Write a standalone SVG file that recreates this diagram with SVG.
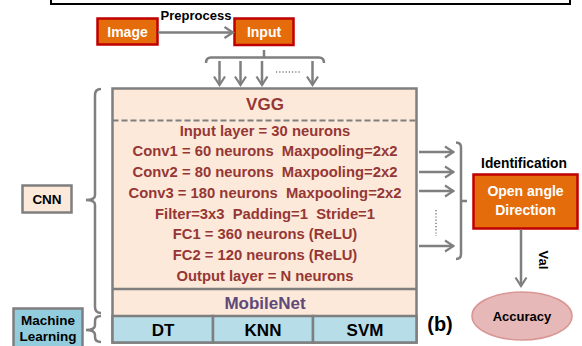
<svg xmlns="http://www.w3.org/2000/svg" width="582" height="346" viewBox="0 0 582 346">
<defs>
<marker id="ah" viewBox="0 0 12 14" refX="10.5" refY="7" markerWidth="12" markerHeight="14" markerUnits="userSpaceOnUse" orient="auto"><path d="M2,1.5 L10.5,7 L2,12.5" fill="none" stroke="#7f7f7f" stroke-width="2.2"/></marker>
</defs>
<style>
text{font-family:"Liberation Sans",Arial,sans-serif;font-weight:bold;text-anchor:middle}
.conn{stroke:#7f7f7f;stroke-width:2.5;fill:none}
.arr{marker-end:url(#ah)}
.dots{stroke:#7f7f7f;stroke-width:1.5;stroke-dasharray:1.2 2;fill:none}
.orange{fill:#e46c0a;stroke:#c00000;stroke-width:2.5}
.wt{fill:#ffffff;font-size:14px}
.red{fill:#953735;font-size:14.8px}
.blk{fill:#000000}
.peach{fill:#fde9d9;stroke:#7f7f7f;stroke-width:2.5}
.blue{fill:#b7dee8;stroke:#7f7f7f;stroke-width:2.5}
</style>
<rect x="51" y="-10" width="519" height="14" fill="none" stroke="#000" stroke-width="2"/>

<g id="image"><rect class="orange" x="97.5" y="18.5" width="60" height="26"/><text class="wt" x="127.5" y="36.5">Image</text></g>
<g id="input"><rect class="orange" x="234.5" y="18.5" width="59" height="26.5"/><text class="wt" x="264" y="36.5">Input</text></g>
<text class="blk" x="196" y="20" font-size="13">Preprocess</text>

<g id="cnn-label"><rect class="peach" x="22.5" y="185.5" width="49" height="27"/><text class="blk" x="47" y="204" font-size="13.5">CNN</text></g>
<g id="ml-label"><rect x="13.5" y="308.5" width="69" height="45" fill="#93cddd" stroke="#7f7f7f" stroke-width="2.5"/><text class="blk" x="48" y="324.5" font-size="13.5">Machine</text><text class="blk" x="48" y="341" font-size="13.5">Learning</text></g>

<g id="model">
<rect class="peach" x="112.5" y="88.5" width="304" height="254"/>
<line x1="112.5" y1="120.5" x2="416.5" y2="120.5" stroke="#7f7f7f" stroke-width="2" stroke-dasharray="6 3"/>
<line x1="112.5" y1="289" x2="416.5" y2="289" stroke="#7f7f7f" stroke-width="2.5"/>
<text x="265" y="110" font-size="17" fill="#953735">VGG</text>
<text class="red" x="265" y="135.5">Input layer = 30 neurons</text>
<text class="red" x="265" y="156.3" xml:space="preserve">Conv1 = 60 neurons  Maxpooling=2x2</text>
<text class="red" x="265" y="177" xml:space="preserve">Conv2 = 80 neurons  Maxpooling=2x2</text>
<text class="red" x="265" y="197.8" xml:space="preserve">Conv3 = 180 neurons  Maxpooling=2x2</text>
<text class="red" x="265" y="218.5" xml:space="preserve">Filter=3x3  Padding=1  Stride=1</text>
<text class="red" x="265" y="239.3">FC1 = 360 neurons (ReLU)</text>
<text class="red" x="265" y="260">FC2 = 120 neurons (ReLU)</text>
<text class="red" x="265" y="280.8">Output layer = N neurons</text>
<text x="265" y="308.5" font-size="17" fill="#5f497a">MobileNet</text>
</g>
<g id="ml-row">
<rect class="blue" x="112.5" y="316" width="100.5" height="26.5"/>
<rect class="blue" x="213" y="316" width="100" height="26.5"/>
<rect class="blue" x="313" y="316" width="103.5" height="26.5"/>
<text class="blk" x="163" y="336" font-size="17">DT</text>
<text class="blk" x="263" y="336" font-size="17">KNN</text>
<text class="blk" x="365" y="336" font-size="17">SVM</text>
</g>

<g id="identification"><text class="blk" x="524" y="167.5" font-size="13.8">Identification</text><rect class="orange" x="473.5" y="174.5" width="104" height="54"/><text class="wt" x="525.5" y="196">Open angle</text><text class="wt" x="525.5" y="214.5">Direction</text></g>
<g id="accuracy"><ellipse cx="522" cy="316" rx="50" ry="24" fill="#e6b9b8" stroke="#d99694" stroke-width="1.5"/><text class="blk" x="522" y="321" font-size="13">Accuracy</text></g>
<text class="blk" x="440" y="331" font-size="20">(b)</text>

<g id="connectors">
<line class="conn arr" x1="158" y1="32.5" x2="233" y2="32.5"/>
<path class="conn" d="M264,50 V57.5 M206,63 Q206,57.5 211,57.5 H319 Q324,57.5 324,63"/>
<line class="conn arr" x1="219.5" y1="61" x2="219.5" y2="85"/>
<line class="conn arr" x1="240.5" y1="61" x2="240.5" y2="85"/>
<line class="conn arr" x1="262" y1="61" x2="262" y2="85"/>
<line class="conn arr" x1="312.5" y1="61" x2="312.5" y2="85"/>
<line class="dots" x1="276" y1="72" x2="301" y2="72"/>
<path class="conn" d="M101,89 Q95,89 95,95 V195 Q95,200 86,200 Q95,200 95,205 V307 Q95,313 101,313"/>
<path class="conn" d="M101,316 Q95,316 95,321 V325 Q95,330 86,330 Q95,330 95,335 V337 Q95,342 101,342"/>
<line class="conn arr" x1="419" y1="152" x2="453.5" y2="152"/>
<line class="conn arr" x1="419" y1="172" x2="453.5" y2="172"/>
<line class="conn arr" x1="419" y1="191" x2="453.5" y2="191"/>
<line class="conn arr" x1="419" y1="246" x2="453.5" y2="246"/>
<line class="dots" x1="436" y1="210" x2="436" y2="236"/>
<path class="conn" d="M456,142.5 Q461,142.5 461,147.5 V254 Q461,259 456,259 M461,201 H467"/>
<line class="conn arr" x1="521" y1="229.5" x2="521" y2="286"/>
</g>
<text class="blk" x="0" y="0" font-size="13" transform="translate(538.5,260) rotate(90)">Val</text>
</svg>
